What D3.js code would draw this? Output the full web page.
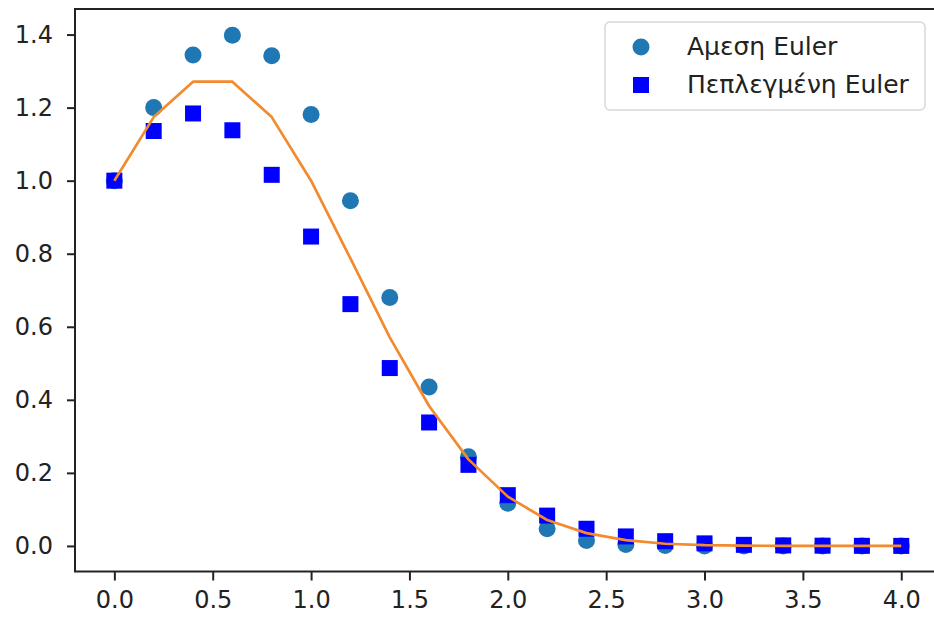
<!DOCTYPE html>
<html>
<head>
<meta charset="utf-8">
<script src="https://cdn.jsdelivr.net/npm/d3@7"></script>
<style>
  body { margin: 0; background: #fff; }
  svg { display: block; font-family: "DejaVu Sans", sans-serif; }
</style>
</head>
<body>
<svg id="chart" width="934" height="617"></svg>
<script>
// time steps (h = 0.2)
const tValues = [0.0, 0.2, 0.4, 0.6, 0.8, 1.0, 1.2, 1.4, 1.6, 1.8, 2.0,
                 2.2, 2.4, 2.6, 2.8, 3.0, 3.2, 3.4, 3.6, 3.8, 4.0];

// explicit Euler (circles)
const explicitEuler = [1.0, 1.2, 1.344, 1.398, 1.342, 1.181, 0.945, 0.680, 0.435, 0.244, 0.117,
                       0.047, 0.015, 0.004, 0.001, 0.0, 0.0, 0.0, 0.0, 0.0, 0.0];

// implicit Euler (squares)
const implicitEuler = [1.0, 1.136, 1.184, 1.138, 1.016, 0.847, 0.662, 0.487, 0.338, 0.222, 0.139,
                       0.083, 0.047, 0.026, 0.013, 0.007, 0.003, 0.0015, 0.0007, 0.0003, 0.0001];

// exact solution (orange line)
const exactValues = [1.0, 1.174, 1.271, 1.271, 1.174, 1.0, 0.787, 0.571, 0.383, 0.237, 0.135,
                     0.071, 0.035, 0.016, 0.006, 0.002, 0.001, 0.0, 0.0, 0.0, 0.0];

const xTicks = [0.0, 0.5, 1.0, 1.5, 2.0, 2.5, 3.0, 3.5, 4.0];
const yTicks = [0.0, 0.2, 0.4, 0.6, 0.8, 1.0, 1.2, 1.4];
const legendLabels = ["Αμεση Euler", "Πεπλεγμένη Euler"];

// plot area (right spine falls just outside the picture)
const plotLeft = 75, plotTop = 9, plotRight = 940.6, plotBottom = 571.5;

const svg = d3.select("#chart");

const x = d3.scaleLinear().domain([-0.2, 4.2]).range([plotLeft, plotRight]);
const y = d3.scaleLinear().domain([-0.07, 1.47]).range([plotBottom, plotTop]);

const fmt = d3.format(".1f");

// x axis
const xAxis = svg.append("g")
    .attr("transform", `translate(0,${plotBottom})`)
    .call(d3.axisBottom(x).tickValues(xTicks).tickFormat(fmt).tickSize(9).tickPadding(10).tickSizeOuter(0));
xAxis.select(".domain").remove();
xAxis.selectAll("line").attr("stroke", "#222").attr("stroke-width", 2);
xAxis.selectAll("text").attr("font-size", 24).attr("fill", "#222")
    .attr("font-family", "DejaVu Sans, sans-serif");

// y axis
const yAxis = svg.append("g")
    .attr("transform", `translate(${plotLeft},0)`)
    .call(d3.axisLeft(y).tickValues(yTicks).tickFormat(fmt).tickSize(8).tickPadding(14).tickSizeOuter(0));
yAxis.select(".domain").remove();
yAxis.selectAll("line").attr("stroke", "#222").attr("stroke-width", 2);
yAxis.selectAll("text").attr("font-size", 24).attr("fill", "#222")
    .attr("font-family", "DejaVu Sans, sans-serif");

// markers
const plot = svg.append("g");

plot.selectAll("circle.explicit")
  .data(tValues)
  .join("circle")
    .attr("class", "explicit")
    .attr("cx", d => x(d))
    .attr("cy", (d, i) => y(explicitEuler[i]))
    .attr("r", 8.5)
    .attr("fill", "#1f77b4");

const sq = 16;
plot.selectAll("rect.implicit")
  .data(tValues)
  .join("rect")
    .attr("class", "implicit")
    .attr("x", d => x(d) - sq / 2)
    .attr("y", (d, i) => y(implicitEuler[i]) - sq / 2)
    .attr("width", sq)
    .attr("height", sq)
    .attr("fill", "#0000ff");

// exact line
const line = d3.line()
    .x(d => x(d[0]))
    .y(d => y(d[1]));

plot.append("path")
    .datum(tValues.map((t, i) => [t, exactValues[i]]))
    .attr("d", line)
    .attr("fill", "none")
    .attr("stroke", "#f28a2e")
    .attr("stroke-width", 2.7)
    .attr("stroke-linejoin", "round");

// spines
svg.append("rect")
    .attr("x", plotLeft)
    .attr("y", plotTop)
    .attr("width", plotRight - plotLeft)
    .attr("height", plotBottom - plotTop)
    .attr("fill", "none")
    .attr("stroke", "#222")
    .attr("stroke-width", 2);

// legend
const legend = svg.append("g");
legend.append("rect")
    .attr("x", 605)
    .attr("y", 22)
    .attr("width", 320)
    .attr("height", 88)
    .attr("rx", 5)
    .attr("fill", "#fff")
    .attr("fill-opacity", 0.8)
    .attr("stroke", "#d8d8d8")
    .attr("stroke-width", 1.5);

legend.append("circle")
    .attr("cx", 641)
    .attr("cy", 47)
    .attr("r", 8.5)
    .attr("fill", "#1f77b4");

legend.append("rect")
    .attr("x", 641 - sq / 2)
    .attr("y", 85 - sq / 2)
    .attr("width", sq)
    .attr("height", sq)
    .attr("fill", "#0000ff");

legend.selectAll("text")
  .data(legendLabels)
  .join("text")
    .attr("x", 687)
    .attr("y", (d, i) => 46 + i * 38)
    .attr("dy", "0.35em")
    .attr("font-size", 25)
    .attr("fill", "#222")
    .text(d => d);
</script>
</body>
</html>
